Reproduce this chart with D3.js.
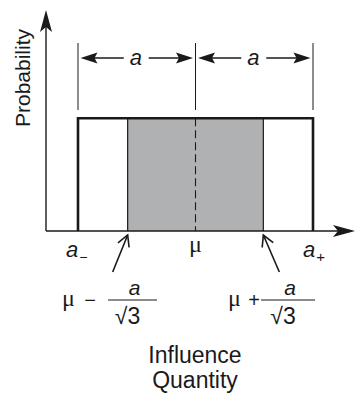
<!DOCTYPE html>
<html>
<head>
<meta charset="utf-8">
<script src="https://cdn.jsdelivr.net/npm/d3@7"></script>
<style>
  html, body { margin: 0; padding: 0; background: #fff; }
  svg { display: block; }
  text { font-family: "Liberation Sans", Arial, Helvetica, sans-serif; fill: #1a1a1a; }
  .it { font-style: italic; }
  .mu { font-family: "Liberation Serif", "DejaVu Serif", serif; }
</style>
</head>
<body>
<svg id="chart" width="355" height="396"></svg>
<script>
// Rectangular (uniform) distribution of half-width a centred on mu
const mu = 0;
const halfWidth = 1;                       // a
const density = [1 / (2 * halfWidth)];     // constant probability level
const shadedHalf = halfWidth / Math.sqrt(3); // one standard deviation: a/√3
const xLabels = ["a", "μ", "a"];
const axisTitles = ["Probability", "Influence", "Quantity"];

const W = 355, H = 396;
const svg = d3.select("#chart");
const ink = "#1a1a1a";

const x = d3.scaleLinear().domain([mu - halfWidth, mu + halfWidth]).range([78, 313]);
const y = d3.scaleLinear().domain([0, 0.98]).range([231, 10]);

const x0 = 46;          // vertical axis position
const yBase = y(0);
const xEnd = 355;

// shaded ±σ band
svg.append("rect")
  .attr("x", x(mu - shadedHalf)).attr("y", y(density[0]))
  .attr("width", x(mu + shadedHalf) - x(mu - shadedHalf))
  .attr("height", yBase - y(density[0]))
  .attr("fill", "#b0b1b3");

// band edges
[mu - shadedHalf, mu + shadedHalf].forEach(v => {
  svg.append("line")
    .attr("x1", x(v)).attr("x2", x(v))
    .attr("y1", y(density[0])).attr("y2", yBase)
    .attr("stroke", ink).attr("stroke-width", 1.2);
});

// dashed line at the mean
svg.append("line")
  .attr("x1", x(mu)).attr("x2", x(mu))
  .attr("y1", y(density[0])).attr("y2", yBase)
  .attr("stroke", ink).attr("stroke-width", 1.1)
  .attr("stroke-dasharray", "8,4");

// distribution outline
svg.append("path")
  .attr("d", d3.line()([
    [x(mu - halfWidth), yBase],
    [x(mu - halfWidth), y(density[0])],
    [x(mu + halfWidth), y(density[0])],
    [x(mu + halfWidth), yBase]
  ]))
  .attr("fill", "none").attr("stroke", ink).attr("stroke-width", 2.6)
  .attr("stroke-linejoin", "miter");

// axes
svg.append("line").attr("x1", x0).attr("x2", x0).attr("y1", yBase).attr("y2", 20)
  .attr("stroke", ink).attr("stroke-width", 1.4);
svg.append("line").attr("x1", x0).attr("x2", xEnd - 10).attr("y1", yBase).attr("y2", yBase)
  .attr("stroke", ink).attr("stroke-width", 1.4);

// barbed arrowhead: tip at (tx,ty), pointing along angle (radians)
function arrowHead(tx, ty, angle, len, half, notch) {
  const c = Math.cos(angle), s = Math.sin(angle);
  const pt = (u, v) => [tx - u * c - v * s, ty - u * s + v * c];
  const pts = [pt(0, 0), pt(len, -half), pt(len - notch, 0), pt(len, half)];
  svg.append("path")
    .attr("d", "M" + pts.map(p => p.join(",")).join("L") + "Z")
    .attr("fill", ink);
}
arrowHead(x0, 10, -Math.PI / 2, 22, 6, 5);
arrowHead(xEnd, yBase, 0, 22, 6, 5);

// dimension markers above the distribution
const dimTop = 43, dimBot = 110, dimY = 58;
[mu - halfWidth, mu, mu + halfWidth].forEach(v => {
  svg.append("line").attr("x1", x(v)).attr("x2", x(v))
    .attr("y1", dimTop).attr("y2", dimBot)
    .attr("stroke", ink).attr("stroke-width", 1);
});
function dimension(a0, a1) {
  const xa = x(a0) + 2.5, xb = x(a1) - 2.5, xm = (x(a0) + x(a1)) / 2;
  svg.append("line").attr("x1", xa + 10).attr("x2", xm - 13)
    .attr("y1", dimY).attr("y2", dimY).attr("stroke", ink).attr("stroke-width", 1.6);
  svg.append("line").attr("x1", xm + 12).attr("x2", xb - 10)
    .attr("y1", dimY).attr("y2", dimY).attr("stroke", ink).attr("stroke-width", 1.6);
  arrowHead(xa, dimY, Math.PI, 17, 5.5, 3);
  arrowHead(xb, dimY, 0, 17, 5.5, 3);
  svg.append("text").attr("class", "it").attr("x", xm - 1).attr("y", dimY + 7)
    .attr("text-anchor", "middle").attr("font-size", 22).text(xLabels[0]);
}
dimension(mu - halfWidth, mu);
dimension(mu, mu + halfWidth);

// x-axis labels
const lblA1 = svg.append("text").attr("x", x(mu - halfWidth) - 12).attr("y", 257).attr("font-size", 22);
lblA1.append("tspan").attr("class", "it").text(xLabels[0]);
lblA1.append("tspan").attr("dx", 1).attr("dy", 5).attr("font-size", 14).text("−");
svg.append("text").attr("class", "mu").attr("x", x(mu)).attr("y", 252)
  .attr("text-anchor", "middle").attr("font-size", 24).text(xLabels[1]);
const lblA2 = svg.append("text").attr("x", x(mu + halfWidth) - 10).attr("y", 257).attr("font-size", 22);
lblA2.append("tspan").attr("class", "it").text(xLabels[2]);
lblA2.append("tspan").attr("dx", 1).attr("dy", 5).attr("font-size", 15).text("+");

// pointer arrows to the band edges
function pointer(v, dx) {
  const tx = x(v), ty = 235;
  const bx = tx + dx, by = 272;
  svg.append("line").attr("x1", bx).attr("y1", by).attr("x2", tx).attr("y2", ty)
    .attr("stroke", ink).attr("stroke-width", 1.6);
  const ang = Math.atan2(ty - by, tx - bx);
  const c = Math.cos(ang), s = Math.sin(ang);
  const l = 11, h = 6;
  const p1 = [tx - l * c + h * s, ty - l * s - h * c];
  const p2 = [tx - l * c - h * s, ty - l * s + h * c];
  svg.append("path").attr("d", `M${p1}L${tx},${ty}L${p2}`)
    .attr("fill", "none").attr("stroke", ink).attr("stroke-width", 1.6);
}
pointer(mu - shadedHalf, -15);
pointer(mu + shadedHalf, 16);

// μ ± a/√3 formulas
function formula(sign, muX, signX, fx0, fx1) {
  const fy = 300;
  svg.append("text").attr("class", "mu").attr("x", muX).attr("y", fy + 6)
    .attr("font-size", 24).text("μ");
  svg.append("text").attr("x", signX).attr("y", fy + 7)
    .attr("text-anchor", "middle").attr("font-size", 20).text(sign);
  svg.append("line").attr("x1", fx0).attr("x2", fx1).attr("y1", fy).attr("y2", fy)
    .attr("stroke", ink).attr("stroke-width", 1.1);
  const fm = (fx0 + fx1) / 2;
  svg.append("text").attr("class", "it").attr("x", fm + 2).attr("y", fy - 5)
    .attr("text-anchor", "middle").attr("font-size", 21).text("a");
  svg.append("text").attr("x", fm - 5).attr("y", fy + 24)
    .attr("text-anchor", "middle").attr("font-size", 23).text("√3");
}
formula("−", 62, 90, 108, 157);
formula("+", 228, 254, 261, 315);

// axis titles
svg.append("text").attr("transform", "translate(30,78) rotate(-90)")
  .attr("text-anchor", "middle").attr("font-size", 21).text(axisTitles[0]);
svg.append("text").attr("x", 195).attr("y", 363)
  .attr("text-anchor", "middle").attr("font-size", 23).text(axisTitles[1]);
svg.append("text").attr("x", 195).attr("y", 388)
  .attr("text-anchor", "middle").attr("font-size", 23).text(axisTitles[2]);
</script>
</body>
</html>
